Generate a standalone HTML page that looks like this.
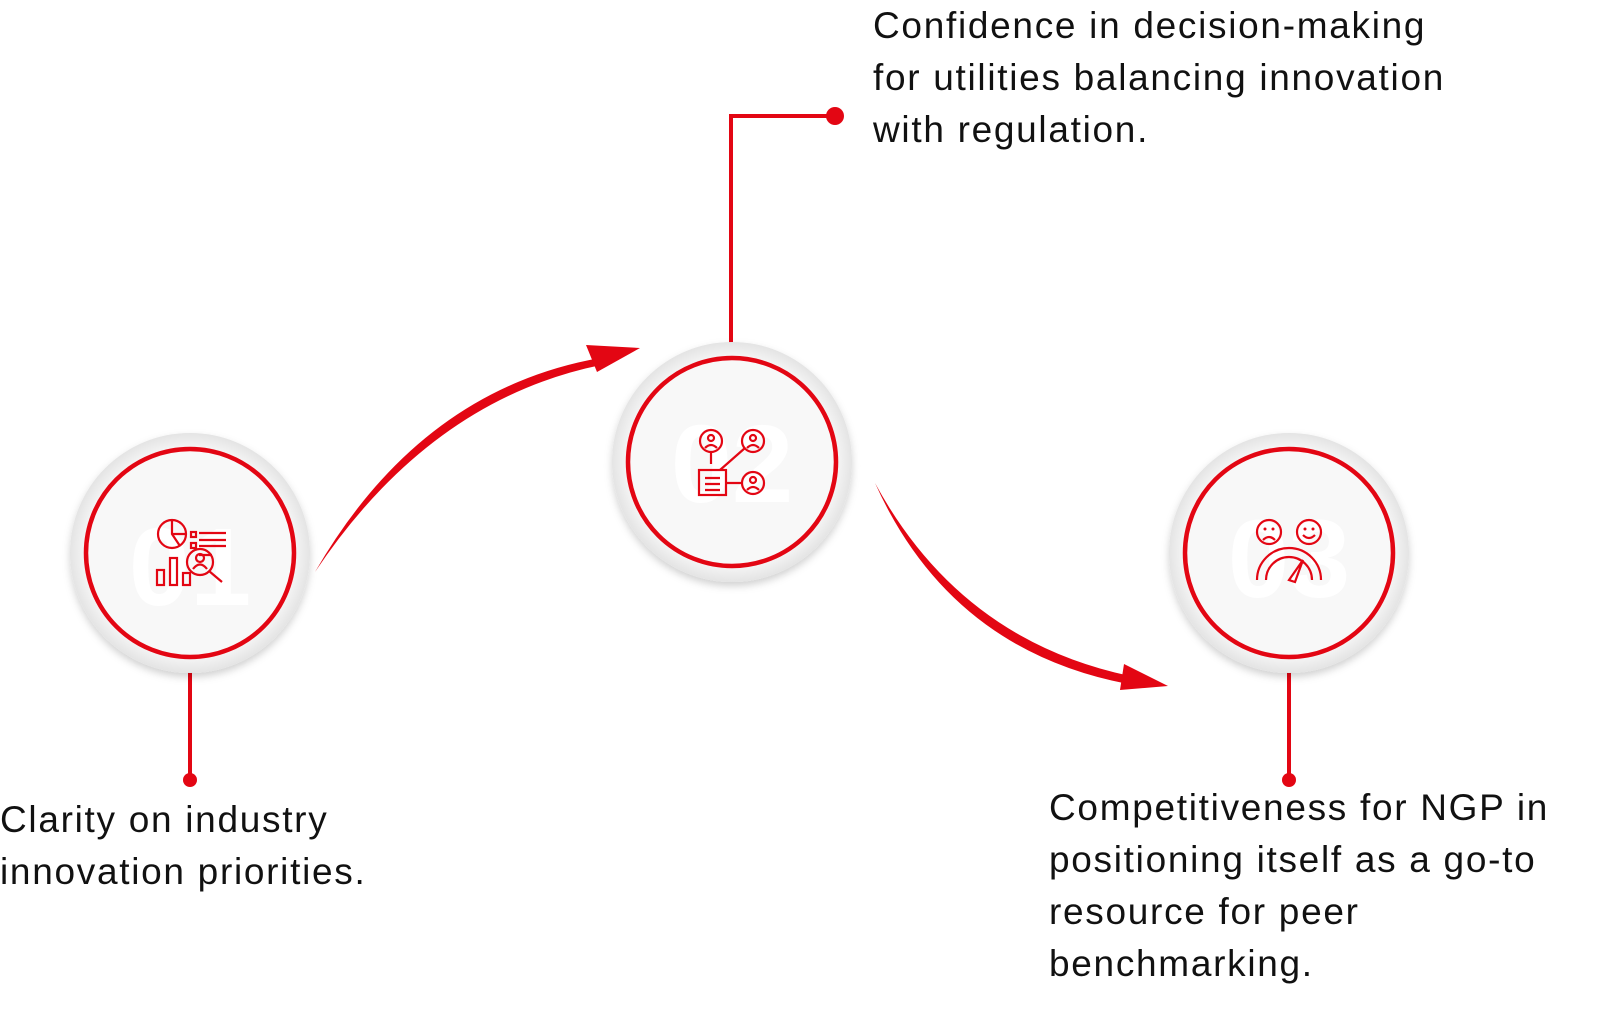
<!DOCTYPE html>
<html><head><style>
body{margin:0;width:1608px;height:1014px;background:#fff;overflow:hidden;position:relative;font-family:"Liberation Sans",sans-serif;}
.t{position:absolute;font-size:37px;line-height:52px;color:#111;letter-spacing:1.7px}
</style></head><body>
<svg width="1608" height="1014" style="position:absolute;left:0;top:0">
<defs>
<radialGradient id="g" cx="50%" cy="50%" r="50%">
<stop offset="85%" stop-color="#f8f8f8"/><stop offset="100%" stop-color="#e4e4e4"/>
</radialGradient>
<filter id="s" x="-20%" y="-20%" width="140%" height="140%"><feDropShadow dx="0" dy="4" stdDeviation="4" flood-color="#000" flood-opacity="0.18"/></filter>
</defs>
<g stroke="#e30613" stroke-width="4" fill="none">
<line x1="190" y1="670" x2="190" y2="780"/>
<polyline points="731,360 731,116 835,116"/>
<line x1="1289" y1="670" x2="1289" y2="780"/>
</g>
<g fill="#e30613">
<circle cx="190" cy="780" r="7"/><circle cx="835" cy="116" r="9"/><circle cx="1289" cy="780" r="7"/>
<path d="M315,572 Q420,390 600,358 L601,365 Q430,400 315,572Z"/>
<polygon points="640,348 586,345 597,372"/>
<path d="M875,483 Q960,640 1130,676 L1128,684 Q950,650 875,483Z"/>
<polygon points="1168,686 1124,664 1120,690"/>
</g>
<g filter="url(#s)">
<circle cx="190" cy="553" r="120" fill="url(#g)"/>
<circle cx="732" cy="462" r="120" fill="url(#g)"/>
<circle cx="1289" cy="553" r="120" fill="url(#g)"/>
</g>
<g fill="#fff" font-size="110" font-weight="bold" font-family="Liberation Sans" text-anchor="middle">
<text x="190" y="605">01</text><text x="732" y="502">02</text><text x="1289" y="597">03</text>
</g>
<g stroke="#e30613" stroke-width="4.5" fill="none">
<circle cx="190" cy="553" r="104"/><circle cx="732" cy="462" r="104"/><circle cx="1289" cy="553" r="104"/>
</g>
<g stroke="#e30613" stroke-width="2.2" fill="none">
<circle cx="172" cy="534" r="14"/><path d="M172,520 V534 L180,546 M172,534 H186"/>
<rect x="191" y="532" width="5" height="5"/><rect x="191" y="543" width="5" height="5"/>
<path d="M199,533H226M199,540H226M199,546H226M199,555H212"/>
<rect x="157" y="570" width="7" height="15"/><rect x="170" y="558" width="7" height="27"/><rect x="183" y="573" width="7" height="12"/>
<circle cx="200" cy="562" r="13"/><circle cx="200" cy="558" r="4"/><path d="M193,569 Q200,560 207,569 M209,571 L222,582"/>
<circle cx="711" cy="441" r="11"/><circle cx="753" cy="441" r="11"/><circle cx="753" cy="483" r="11"/>
<circle cx="711" cy="438" r="3"/><circle cx="753" cy="438" r="3"/><circle cx="753" cy="480" r="3"/>
<path d="M705,448 Q711,442 717,448 M747,448 Q753,442 759,448 M747,490 Q753,484 759,490"/>
<path d="M720,470 L745,448 M727,483 H742 M711,452 V464"/>
<rect x="699" y="470" width="27" height="25"/><path d="M705,478H720M705,484H720M705,490H720"/>
<circle cx="1269" cy="532" r="12"/><circle cx="1309" cy="532" r="12"/>
<path d="M1263,540 Q1269,534 1275,540 M1303,535 Q1309,541 1315,535"/>
<path d="M1257,580 A32,32 0 0 1 1321,580 M1266,580 A23,23 0 0 1 1312,580 M1289,580 L1303,560 L1295,582 Z"/>
</g>
<g fill="#e30613"><circle cx="1265" cy="529" r="1.5"/><circle cx="1273" cy="529" r="1.5"/><circle cx="1305" cy="529" r="1.5"/><circle cx="1313" cy="529" r="1.5"/></g>
</svg>
<div class="t" style="left:873px;top:0px">Confidence in decision-making<br>for utilities balancing innovation<br>with regulation.</div>
<div class="t" style="left:0px;top:794px">Clarity on industry<br>innovation priorities.</div>
<div class="t" style="left:1049px;top:782px">Competitiveness for NGP in<br>positioning itself as a go-to<br>resource for peer<br>benchmarking.</div>
</body></html>
